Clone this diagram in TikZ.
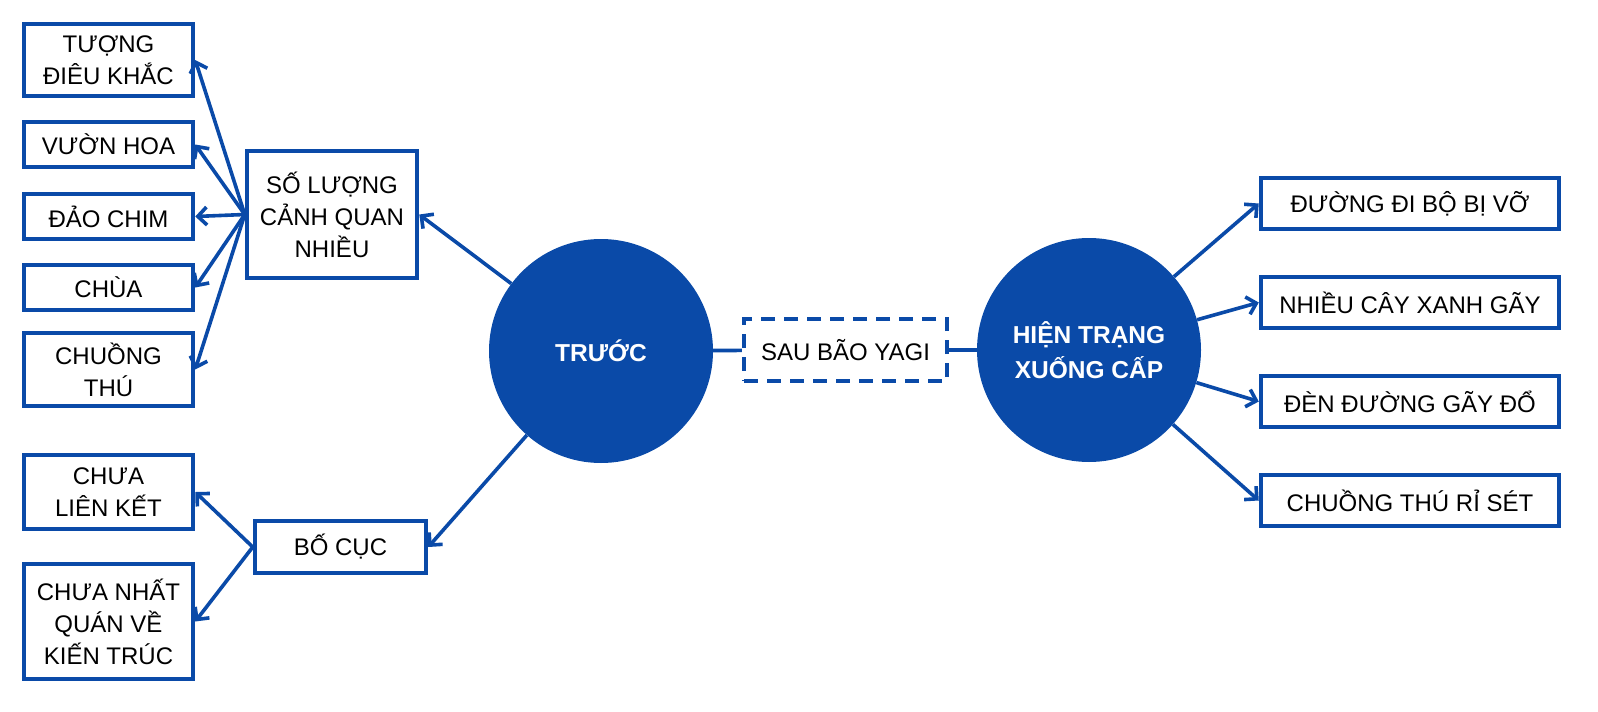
\documentclass[tikz,border=0pt]{standalone}
\usepackage{fontspec}
\setmainfont{Liberation Sans}
\usetikzlibrary{arrows.meta}
\definecolor{mblue}{RGB}{10,74,168}
\tikzset{
  box/.style={draw=mblue, line width=4.5pt, fill=white, inner sep=0pt, align=center,
    font=\fontsize{24}{32}\selectfont, text=black},
  dashbox/.style={box, dash pattern=on 14pt off 9pt},
  bigcircle/.style={circle, fill=mblue, draw=none, minimum size=224pt, inner sep=0pt,
    align=center, text=white, font=\fontsize{24.5}{35}\selectfont\bfseries},
  conn/.style={draw=mblue, line width=3.6pt},
  arr/.style={conn, -{Straight Barb[length=9pt,width=18pt]}}
}
\begin{document}
\begin{tikzpicture}[x=1pt,y=-1pt]
\useasboundingbox[fill=white] (0,0) rectangle (1598,712);
% left boxes
\node[box, minimum width=169pt, minimum height=72pt] (tuong) at (108.5,60) {TƯỢNG\\ĐIÊU KHẮC};
\node[box, minimum width=169pt, minimum height=45pt] (vuon) at (108.5,144.5) {VƯỜN HOA};
\node[box, minimum width=169pt, minimum height=45pt] (dao) at (108.5,216.5) {ĐẢO CHIM};
\node[box, minimum width=169pt, minimum height=45pt] (chua) at (108.5,287.5) {CHÙA};
\node[box, minimum width=169pt, minimum height=73pt] (chuong) at (108.5,369.5) {CHUỒNG\\THÚ};
\node[box, minimum width=169pt, minimum height=74pt] (lienket) at (108.5,492) {CHƯA\\LIÊN KẾT};
\node[box, minimum width=169pt, minimum height=115pt] (nhatquan) at (108.5,621.5) {CHƯA NHẤT\\QUÁN VỀ\\KIẾN TRÚC};
% middle-left boxes
\node[box, minimum width=170pt, minimum height=127pt] (soluong) at (332,214.5) {SỐ LƯỢNG\\CẢNH QUAN\\NHIỀU};
\node[box, minimum width=171pt, minimum height=52pt] (bocuc) at (340.5,547) {BỐ CỤC};
% circles
\node[bigcircle] (truoc) at (601,351) {TRƯỚC};
\node[dashbox, minimum width=203pt, minimum height=62pt] (sau) at (845.5,350) {SAU BÃO YAGI};
\node[bigcircle] (hien) at (1089,350) {HIỆN TRẠNG\\XUỐNG CẤP};
% right boxes
\node[box, minimum width=298pt, minimum height=51pt] (r1) at (1410,203.5) {ĐƯỜNG ĐI BỘ BỊ VỠ};
\node[box, minimum width=298pt, minimum height=51pt] (r2) at (1410,302.5) {NHIỀU CÂY XANH GÃY};
\node[box, minimum width=298pt, minimum height=51pt] (r3) at (1410,401.5) {ĐÈN ĐƯỜNG GÃY ĐỔ};
\node[box, minimum width=298pt, minimum height=51pt] (r4) at (1410,500.5) {CHUỒNG THÚ RỈ SÉT};
% connectors
\draw[conn] (truoc) -- (sau);
\draw[conn] (sau) -- (hien);
\draw[arr] (truoc) -- (soluong.east);
\draw[arr] (truoc) -- (bocuc.east);
\foreach \t in {tuong,vuon,dao,chua,chuong}
  \draw[arr] (soluong.west) -- (\t.east);
\foreach \t in {lienket,nhatquan}
  \draw[arr] (bocuc.west) -- (\t.east);
\foreach \t in {r1,r2,r3,r4}
  \draw[arr] (hien) -- (\t.west);
\end{tikzpicture}
\end{document}
